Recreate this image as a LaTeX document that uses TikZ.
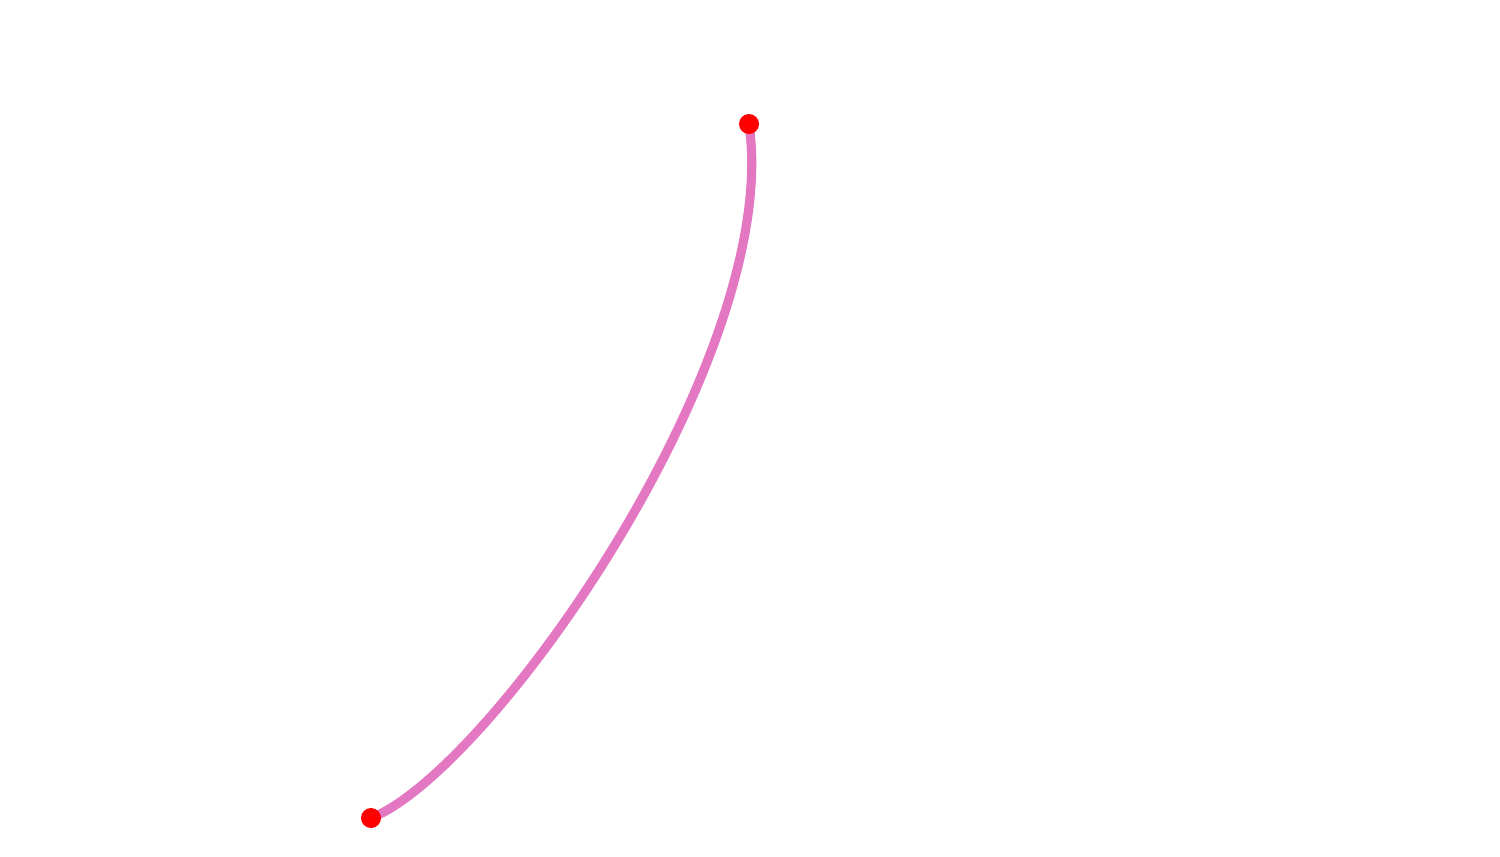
\documentclass[tikz,border=0pt]{standalone}
\definecolor{curvepink}{HTML}{E377C2}
\tikzset{
  curveline/.style={draw=curvepink, line width=2.6pt},
  enddot/.style={circle, fill=red, draw=none, minimum size=0.2cm, inner sep=0pt}
}
\begin{document}
\begin{tikzpicture}[x=0.01cm, y=-0.01cm]
  \useasboundingbox (0,0) rectangle (1500,856);
  \coordinate (A) at (371,818);
  \coordinate (B) at (749,124);
  \draw[curveline] (A) .. controls (490,772) and (783,356) .. (B);
  \node[enddot] (a) at (A) {};
  \node[enddot] (b) at (B) {};
\end{tikzpicture}
\end{document}
